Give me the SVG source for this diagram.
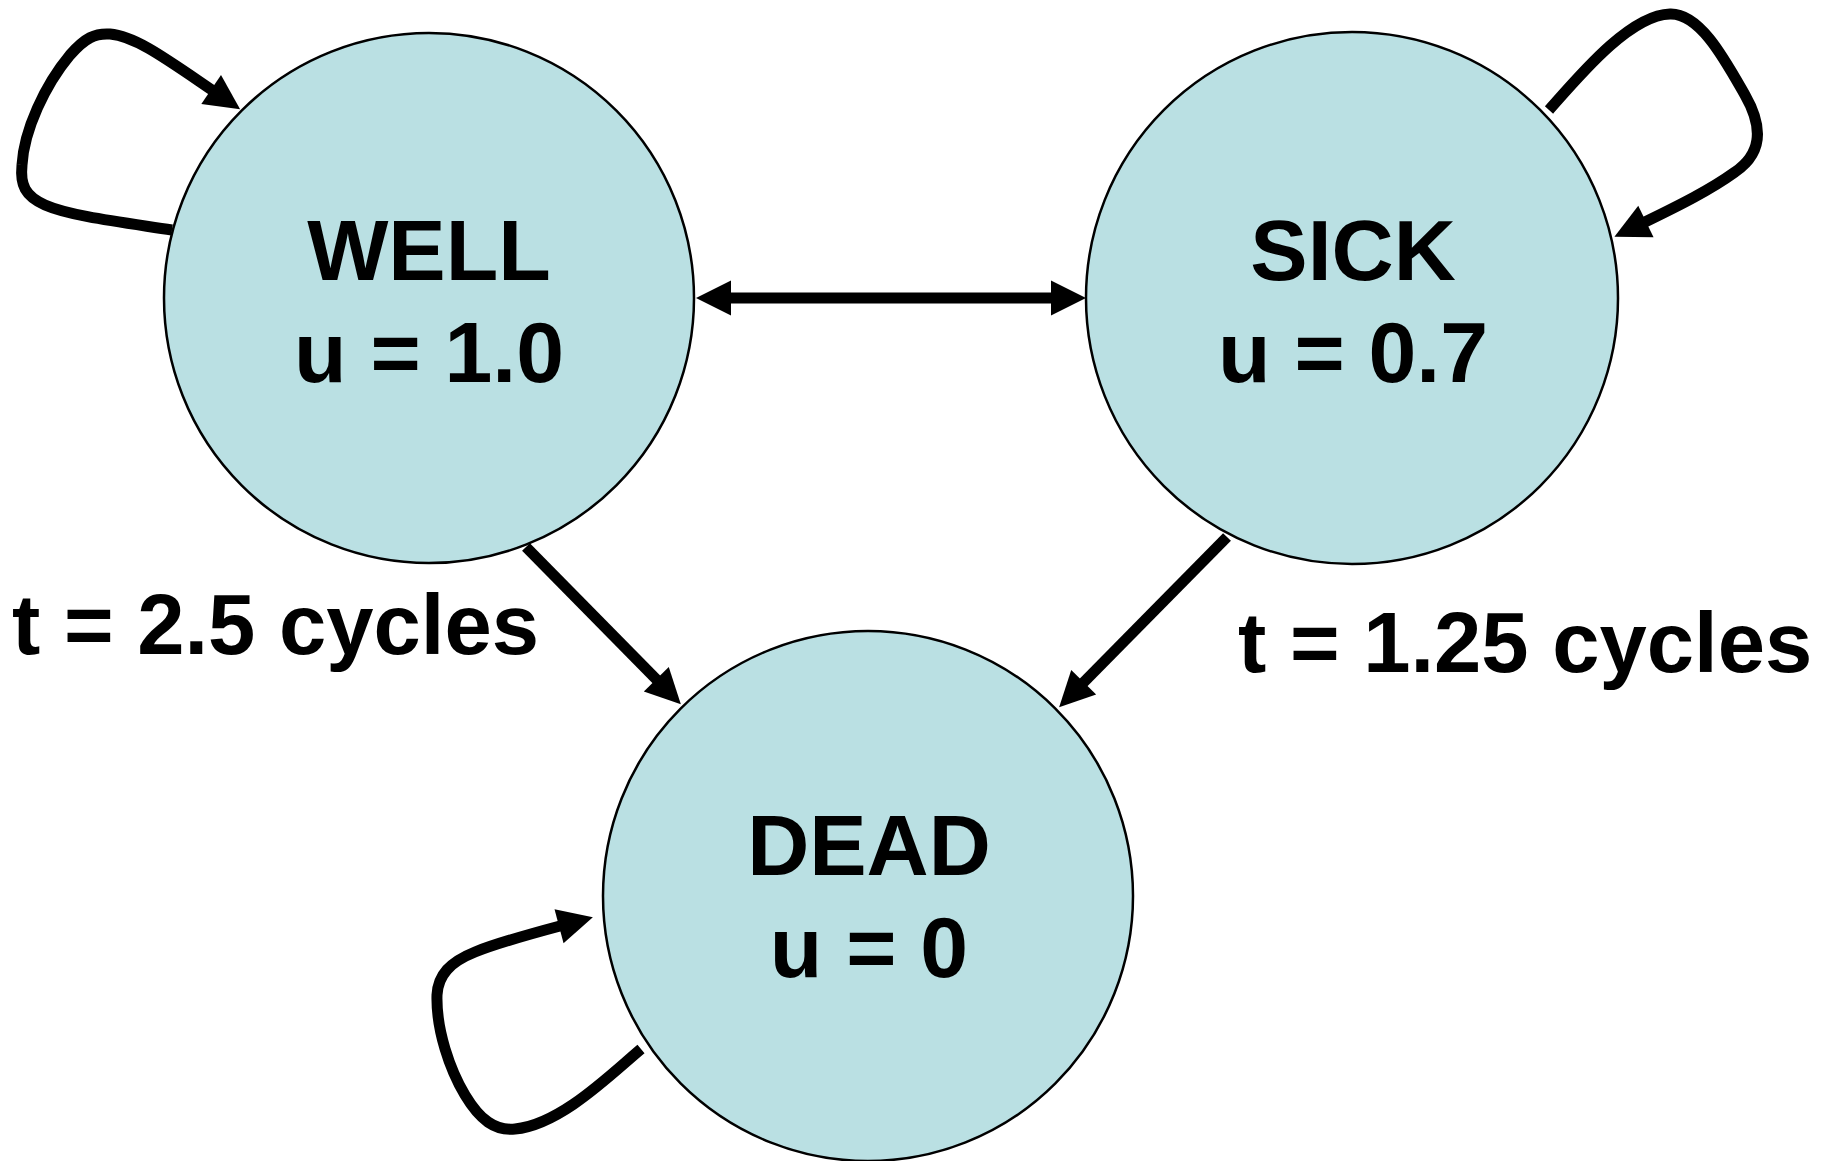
<svg xmlns="http://www.w3.org/2000/svg" width="1832" height="1161" viewBox="0 0 1832 1161">
  <style>
    .state { fill: #BAE0E3; stroke: #000; stroke-width: 2.5; }
    .name { font-family: "Liberation Sans", Arial, sans-serif; font-weight: bold; font-size: 86px; fill: #000; text-anchor: middle; }
    .lbl { font-family: "Liberation Sans", Arial, sans-serif; font-weight: bold; font-size: 85px; fill: #000; }
    .edge { fill: none; stroke: #000; stroke-width: 11; }
  </style>
  <defs>
    <marker id="ah" markerUnits="userSpaceOnUse" markerWidth="40" markerHeight="40" viewBox="0 -20 40 40" refX="1" refY="0" orient="auto-start-reverse" overflow="visible">
      <path d="M0,-17.5 L35,0 L0,17.5 z" fill="#000"/>
    </marker>
  </defs>

  <rect width="1832" height="1161" fill="#fff"/>

  <g id="well">
    <circle class="state" cx="429" cy="298" r="265"/>
    <text class="name" x="429" y="280">WELL</text>
    <text class="name" x="429" y="382">u = 1.0</text>
  </g>

  <g id="sick">
    <circle class="state" cx="1352" cy="298" r="266"/>
    <text class="name" x="1353" y="280">SICK</text>
    <text class="name" x="1353" y="382">u = 0.7</text>
  </g>

  <g id="dead">
    <circle class="state" cx="868" cy="896" r="265"/>
    <text class="name" x="869" y="875">DEAD</text>
    <text class="name" x="869" y="977">u = 0</text>
  </g>

  <g id="connectors">
    <!-- WELL <-> SICK -->
    <path class="edge" d="M730,298 L1052,298" marker-start="url(#ah)" marker-end="url(#ah)"/>
    <!-- WELL -> DEAD -->
    <path class="edge" d="M526,547 L657,680" marker-end="url(#ah)"/>
    <!-- SICK -> DEAD -->
    <path class="edge" d="M1227,537 L1083,683" marker-end="url(#ah)"/>
    <!-- WELL self-loop -->
    <path class="edge" d="M172,230 C 120,222 70,216 45,205 C 25,196 20,185 22,165 C 24,130 45,85 70,55 C 85,38 95,33 110,34 C 135,36 165,58 212,90" marker-end="url(#ah)"/>
    <!-- SICK self-loop -->
    <path class="edge" d="M1549,110 C 1580,75 1630,15 1670,14 C 1700,13 1725,60 1745,95 C 1765,130 1760,155 1735,172 C 1710,190 1680,205 1645,222" marker-end="url(#ah)"/>
    <!-- DEAD self-loop -->
    <path class="edge" d="M641,1049 C 610,1075 560,1125 515,1129 C 495,1131 480,1120 465,1095 C 450,1070 436,1030 437,995 C 438,975 450,962 475,952 C 500,942 530,934 560,926" marker-end="url(#ah)"/>
  </g>

  <g id="labels">
    <text class="lbl" x="12" y="654">t = 2.5 cycles</text>
    <text class="lbl" x="1238" y="672">t = 1.25 cycles</text>
  </g>
</svg>
